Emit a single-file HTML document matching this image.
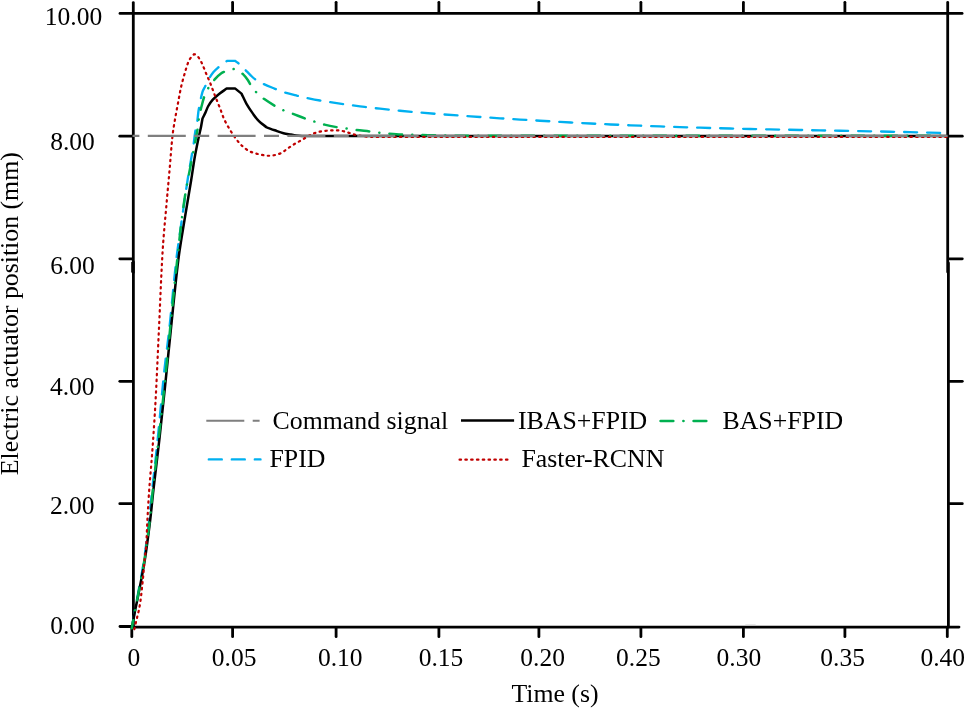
<!DOCTYPE html>
<html><head><meta charset="utf-8"><title>Electric actuator position vs time</title>
<style>html,body{margin:0;padding:0;background:#fff;}svg{display:block;}</style>
</head><body>
<svg width="965" height="709" viewBox="0 0 965 709">
<rect width="965" height="709" fill="#fff"/>
<g stroke="#000" stroke-width="2.8" stroke-linecap="round" fill="none">
<path d="M133.3 2.6 V272.5" />
<path d="M133.4 262.0 V627.1" />
<path d="M132.0 262.0 V272.6" stroke-width="1.6" stroke-linecap="butt"/>
<path d="M947.7 2.4 V272.0" />
<path d="M948.4 263.0 V627.1" />
<path d="M120.0 13.4 H962.1" />
<path d="M133.2 627.1 H959.0" />
<path d="M120.0 626.5 H133.2" />
<path d="M232.6 12.0 V2.3" />
<path d="M336.1 12.0 V2.3" />
<path d="M438.9 12.0 V2.3" />
<path d="M538.9 12.0 V2.3" />
<path d="M640.9 12.0 V2.3" />
<path d="M743.4 12.0 V2.3" />
<path d="M844.9 12.0 V2.3" />
<path d="M745.3 625.1 H755.7" stroke="#c4c4c4" stroke-width="1" stroke-linecap="butt"/>
<path d="M131.8 628.5 V636.7" />
<path d="M232.6 628.5 V636.7" />
<path d="M336.1 628.5 V636.7" />
<path d="M438.9 628.5 V636.7" />
<path d="M538.9 628.5 V636.7" />
<path d="M640.9 628.5 V636.7" />
<path d="M743.4 628.5 V636.7" />
<path d="M844.9 628.5 V636.7" />
<path d="M947.3 628.5 V636.7" />
<path d="M131.8 136.2 H119.8" />
<path d="M949.4 136.2 H962.3" />
<path d="M131.8 258.8 H119.8" />
<path d="M949.4 258.8 H962.3" />
<path d="M131.8 381.3 H119.8" />
<path d="M949.4 381.3 H962.3" />
<path d="M131.8 503.7 H119.8" />
<path d="M949.4 503.7 H962.3" />
</g>
<g fill="none" stroke-linecap="butt">
<path d="M131.80 628.30 C132.87 622.20 133.90 616.09 135.00 610.00 C135.90 604.99 136.90 600.01 137.80 595.00 C139.90 583.34 142.22 571.71 144.00 560.00 C146.02 546.71 147.60 533.35 149.20 520.00 C149.80 515.01 150.08 509.99 150.60 505.00 C152.88 483.33 155.38 461.68 157.60 440.00 C159.98 416.68 161.94 393.31 164.40 370.00 C165.81 356.65 167.76 343.35 169.20 330.00 C171.72 306.68 173.63 283.30 176.30 260.00 C177.83 246.63 179.92 233.33 181.80 220.00 C183.68 206.66 185.52 193.31 187.60 180.00 C189.42 168.31 191.65 156.69 193.50 145.00 C194.18 140.72 194.51 136.38 195.20 132.10 C195.72 128.88 196.60 125.72 197.10 122.50 C197.80 118.02 198.01 113.47 198.80 109.00 C199.81 103.26 200.93 97.52 202.50 91.90 C203.04 89.98 204.21 88.29 205.10 86.50 C206.54 83.62 207.90 80.69 209.50 77.90 C210.64 75.92 211.85 73.96 213.30 72.20 C214.63 70.58 216.21 69.16 217.80 67.80 C220.15 65.79 222.61 63.93 225.10 62.10 C225.79 61.59 226.57 61.23 227.30 60.80 C229.83 60.80 232.37 60.80 234.90 60.80 C235.97 61.53 237.12 62.15 238.10 63.00 C240.43 65.03 242.59 67.24 244.80 69.40 C246.62 71.18 248.37 73.03 250.20 74.80 C251.64 76.20 252.96 77.75 254.60 78.90 C257.12 80.67 259.83 82.16 262.60 83.50 C266.64 85.46 270.85 87.07 275.00 88.80 C277.82 89.97 280.59 91.29 283.50 92.20 C288.04 93.62 292.68 94.67 297.30 95.80 C300.68 96.63 304.09 97.39 307.50 98.10 C311.65 98.96 315.82 99.80 320.00 100.51 C326.65 101.64 333.32 102.67 340.00 103.64 C346.66 104.61 353.33 105.50 360.00 106.34 C366.66 107.18 373.33 107.95 380.00 108.68 C386.66 109.41 393.33 110.09 400.00 110.73 C406.66 111.37 413.33 111.96 420.00 112.53 C426.66 113.10 433.33 113.63 440.00 114.14 C446.66 114.65 453.33 115.13 460.00 115.60 C466.67 116.07 473.33 116.53 480.00 116.98 C486.67 117.43 493.33 117.87 500.00 118.30 C506.67 118.73 513.33 119.15 520.00 119.56 C526.67 119.97 533.33 120.37 540.00 120.76 C546.67 121.15 553.33 121.53 560.00 121.90 C566.67 122.27 573.33 122.62 580.00 122.96 C586.67 123.30 593.33 123.63 600.00 123.95 C606.67 124.27 613.33 124.58 620.00 124.87 C626.67 125.16 633.33 125.43 640.00 125.69 C646.67 125.95 653.33 126.20 660.00 126.44 C666.67 126.67 673.33 126.89 680.00 127.10 C686.67 127.31 693.33 127.51 700.00 127.70 C706.67 127.89 713.33 128.07 720.00 128.24 C726.67 128.41 733.33 128.57 740.00 128.73 C746.67 128.89 753.33 129.04 760.00 129.18 C766.67 129.32 773.33 129.45 780.00 129.59 C786.67 129.72 793.33 129.86 800.00 129.99 C806.67 130.12 813.33 130.24 820.00 130.37 C826.67 130.50 833.33 130.62 840.00 130.75 C846.67 130.88 853.33 131.00 860.00 131.13 C866.67 131.26 873.33 131.39 880.00 131.52 C886.67 131.66 893.33 131.80 900.00 131.94 C906.67 132.09 913.33 132.23 920.00 132.39 C926.67 132.55 933.33 132.72 940.00 132.88 C942.53 132.94 945.07 133.01 947.60 133.07" stroke="#00b0f0" stroke-width="2.35" fill="none" stroke-dasharray="13 10" stroke-linecap="round" stroke-dashoffset="-6"/>
<path d="M131.80 628.30 C132.93 622.20 134.01 616.09 135.20 610.00 C136.18 604.99 137.34 600.01 138.30 595.00 C140.54 583.35 142.94 571.72 144.80 560.00 C146.91 546.71 148.56 533.35 150.20 520.00 C151.43 510.02 152.26 499.99 153.40 490.00 C155.30 473.33 157.43 456.68 159.30 440.00 C161.36 421.68 163.28 403.34 165.20 385.00 C167.12 366.67 168.88 348.33 170.80 330.00 C173.25 306.66 175.40 283.29 178.30 260.00 C179.97 246.61 182.35 233.32 184.50 220.00 C186.65 206.65 189.03 193.34 191.20 180.00 C192.39 172.68 193.37 165.32 194.60 158.00 C195.33 153.65 196.23 149.33 197.10 145.00 C197.73 141.83 198.42 138.66 199.10 135.50 C199.75 132.46 200.49 129.45 201.10 126.40 C201.62 123.78 202.03 121.13 202.50 118.50 C203.43 116.63 204.42 114.79 205.30 112.90 C206.36 110.62 207.06 108.18 208.30 106.00 C209.57 103.76 211.07 101.62 212.80 99.70 C214.69 97.60 216.89 95.77 219.10 94.00 C221.50 92.07 224.10 90.40 226.60 88.60 C229.50 88.60 232.40 88.60 235.30 88.60 C237.37 90.27 239.43 91.93 241.50 93.60 C243.17 97.00 244.62 100.51 246.50 103.80 C248.50 107.29 250.77 110.62 253.10 113.90 C254.90 116.43 256.69 119.02 258.90 121.20 C261.28 123.55 264.17 125.33 266.80 127.40 C269.47 128.37 272.12 129.37 274.80 130.30 C277.69 131.30 280.55 132.41 283.50 133.20 C285.89 133.84 288.36 134.15 290.80 134.60 C292.53 134.92 294.25 135.30 296.00 135.50 C297.99 135.73 300.00 135.87 302.00 135.90 C308.00 136.00 314.00 135.90 320.00 135.90 C529.20 135.90 738.40 135.90 947.60 135.90" stroke="#000" stroke-width="2.5" fill="none" stroke-linejoin="round"/>
<path d="M131.80 628.30 C132.90 622.20 133.95 616.09 135.10 610.00 C136.05 604.99 137.17 600.01 138.10 595.00 C140.27 583.35 142.57 571.71 144.40 560.00 C146.47 546.71 148.20 533.36 149.80 520.00 C151.00 510.02 151.71 499.99 152.80 490.00 C154.61 473.32 156.63 456.67 158.50 440.00 C160.56 421.67 162.68 403.35 164.60 385.00 C166.52 366.68 168.15 348.33 170.00 330.00 C172.35 306.66 174.62 283.31 177.20 260.00 C179.42 239.98 181.35 219.91 184.40 200.00 C187.42 180.26 191.77 160.74 195.40 141.10 C196.30 136.21 197.24 131.32 198.00 126.40 C198.48 123.31 198.54 120.17 199.10 117.10 C199.84 113.03 200.84 109.00 201.90 105.00 C202.84 101.43 203.72 97.82 205.10 94.40 C206.26 91.52 207.81 88.80 209.50 86.20 C211.19 83.61 213.13 81.19 215.20 78.90 C216.97 76.94 218.85 75.03 221.00 73.50 C222.59 72.37 224.49 71.73 226.30 71.00 C227.83 70.39 229.38 69.78 231.00 69.50 C232.51 69.24 234.18 68.83 235.60 69.40 C238.41 70.53 240.91 72.41 243.20 74.40 C244.95 75.92 246.28 77.89 247.60 79.80 C249.02 81.84 249.96 84.18 251.40 86.20 C253.13 88.63 254.99 90.99 257.10 93.10 C259.31 95.31 261.75 97.29 264.30 99.10 C268.16 101.84 272.20 104.33 276.30 106.70 C278.91 108.21 281.63 109.51 284.40 110.70 C287.21 111.91 290.14 112.82 293.00 113.90 C297.47 115.59 301.90 117.39 306.40 119.00 C309.07 119.96 311.79 120.76 314.50 121.60 C317.82 122.63 321.12 123.77 324.50 124.60 C328.99 125.70 333.54 126.58 338.10 127.40 C341.15 127.95 344.23 128.26 347.30 128.70 C350.33 129.13 353.36 129.62 356.40 130.00 C361.13 130.59 365.87 131.03 370.60 131.60 C373.64 131.97 376.66 132.49 379.70 132.80 C385.22 133.36 390.76 133.87 396.30 134.20 C401.83 134.53 407.37 134.62 412.90 134.80 C417.87 134.96 422.83 135.09 427.80 135.20 C435.20 135.36 442.60 135.51 450.00 135.60 C460.00 135.71 470.00 135.80 480.00 135.80 C635.87 135.86 791.73 135.80 947.60 135.80" stroke="#00b050" stroke-width="2.5" fill="none" stroke-dasharray="12.7 10.1 0.1 10.1" stroke-linecap="round" stroke-dashoffset="4.5"/>
<path d="M134.30 629.20 C135.27 625.13 136.23 621.06 137.20 617.00 C137.76 614.66 138.43 612.35 138.90 610.00 C139.56 606.68 140.16 603.35 140.60 600.00 C141.46 593.35 142.13 586.67 142.80 580.00 C143.47 573.34 143.95 566.66 144.60 560.00 C145.09 555.00 145.85 550.02 146.20 545.00 C146.78 536.68 146.95 528.33 147.40 520.00 C147.95 510.00 148.49 499.99 149.20 490.00 C150.15 476.66 151.45 463.34 152.40 450.00 C153.58 433.34 154.70 416.68 155.60 400.00 C156.86 376.67 157.80 353.33 158.90 330.00 C160.16 303.33 161.08 276.65 162.70 250.00 C163.65 234.31 165.26 218.66 166.60 203.00 C167.56 191.80 168.62 180.60 169.60 169.40 C170.58 158.20 171.30 146.98 172.50 135.80 C173.07 130.50 174.01 125.25 174.90 120.00 C175.98 113.62 177.21 107.26 178.40 100.90 C179.28 96.23 180.05 91.54 181.10 86.90 C182.02 82.83 183.16 78.81 184.30 74.80 C185.33 71.18 186.34 67.55 187.60 64.00 C188.21 62.27 188.92 60.55 189.90 59.00 C190.84 57.52 192.13 56.30 193.30 55.00 C193.57 54.70 193.81 54.10 194.20 54.20 C195.39 54.49 196.55 55.12 197.40 56.00 C198.78 57.44 199.72 59.26 200.70 61.00 C201.66 62.70 202.42 64.51 203.20 66.30 C203.95 68.01 204.59 69.77 205.30 71.50 C206.02 73.24 206.76 74.97 207.50 76.70 C208.23 78.40 209.00 80.09 209.70 81.80 C210.47 83.69 211.17 85.60 211.90 87.50 C213.04 90.47 214.14 93.44 215.30 96.40 C216.78 100.18 218.33 103.92 219.80 107.70 C221.33 111.62 222.54 115.68 224.30 119.50 C225.94 123.06 227.96 126.45 230.00 129.80 C231.93 132.98 233.94 136.13 236.20 139.10 C238.09 141.58 240.07 144.02 242.40 146.10 C244.77 148.22 247.31 150.26 250.20 151.60 C253.60 153.17 257.33 153.95 261.00 154.70 C264.05 155.32 267.19 155.95 270.30 155.70 C274.02 155.41 277.73 154.49 281.20 153.10 C283.33 152.25 284.91 150.40 286.80 149.10 C289.08 147.53 291.34 145.93 293.70 144.50 C296.67 142.70 299.77 141.11 302.80 139.40 C305.84 137.68 308.70 135.61 311.90 134.20 C314.81 132.92 317.89 132.03 321.00 131.40 C324.02 130.79 327.13 130.73 330.20 130.50 C332.10 130.36 334.00 130.25 335.90 130.30 C337.81 130.35 339.72 130.47 341.60 130.80 C343.54 131.14 345.42 131.74 347.30 132.30 C349.22 132.87 351.07 133.67 353.00 134.20 C354.87 134.71 356.79 135.05 358.70 135.40 C360.96 135.82 363.21 136.29 365.50 136.50 C368.52 136.78 371.56 136.80 374.60 136.85 C379.73 136.93 384.87 136.90 390.00 136.90 C575.87 136.92 761.73 136.90 947.60 136.90" stroke="#c00000" stroke-width="2.2" fill="none" stroke-dasharray="1.4 4.4" stroke-linecap="round"/>
<path d="M132.5 135.9 H947.6" stroke="#7f7f7f" stroke-width="2.1" fill="none" stroke-dasharray="38 8.4 15 8.4" stroke-dashoffset="54.5"/>
</g>
<g font-family="Liberation Serif, Times New Roman, serif" font-size="25.5" fill="#000">
<text x="73.5" y="25.2" text-anchor="middle">10.00</text>
<text x="72.5" y="150.2" text-anchor="middle">8.00</text>
<text x="72.5" y="274.2" text-anchor="middle">6.00</text>
<text x="72.2" y="395.4" text-anchor="middle">4.00</text>
<text x="72.3" y="514.3" text-anchor="middle">2.00</text>
<text x="72.5" y="633.7" text-anchor="middle">0.00</text>
<text x="133.8" y="666.3" text-anchor="middle">0</text>
<text x="234.1" y="666.3" text-anchor="middle">0.05</text>
<text x="340.2" y="666.3" text-anchor="middle">0.10</text>
<text x="441.0" y="666.3" text-anchor="middle">0.15</text>
<text x="542.6" y="666.3" text-anchor="middle">0.20</text>
<text x="638.4" y="666.3" text-anchor="middle">0.25</text>
<text x="738.9" y="666.3" text-anchor="middle">0.30</text>
<text x="842.6" y="666.3" text-anchor="middle">0.35</text>
<text x="942.8" y="666.3" text-anchor="middle">0.40</text>
</g>
<g font-family="Liberation Serif, Times New Roman, serif" font-size="25.8" fill="#000">
<text x="555.0" y="702.3" text-anchor="middle">Time (s)</text>
<text transform="translate(18.0 313.7) rotate(-90)" text-anchor="middle">Electric actuator position (mm)</text>
<text x="272.6" y="429.0">Command signal</text>
<text x="518.0" y="429.2">IBAS+FPID</text>
<text x="722.5" y="429.2">BAS+FPID</text>
<text x="269.5" y="466.9">FPID</text>
<text x="521.5" y="467.4">Faster-RCNN</text>
</g>
<g fill="none">
<path d="M206.3 420.8 H259.6" stroke="#7f7f7f" stroke-width="2.1" stroke-dasharray="38 8.4 15 8.4"/>
<path d="M461.0 420.5 H514.1" stroke="#000" stroke-width="2.6"/>
<path d="M660.6 421.0 H707" stroke="#00b050" stroke-width="2.6" stroke-dasharray="12.7 10.1 0.1 10.1" stroke-linecap="round"/>
<path d="M208.8 459.4 H260.5" stroke="#00b0f0" stroke-width="2.35" stroke-dasharray="13 10" stroke-linecap="round"/>
<path d="M459.6 459.7 H509.0" stroke="#c00000" stroke-width="2.3" stroke-dasharray="1.4 4.4" stroke-linecap="round"/>
</g>
</svg>
</body></html>
